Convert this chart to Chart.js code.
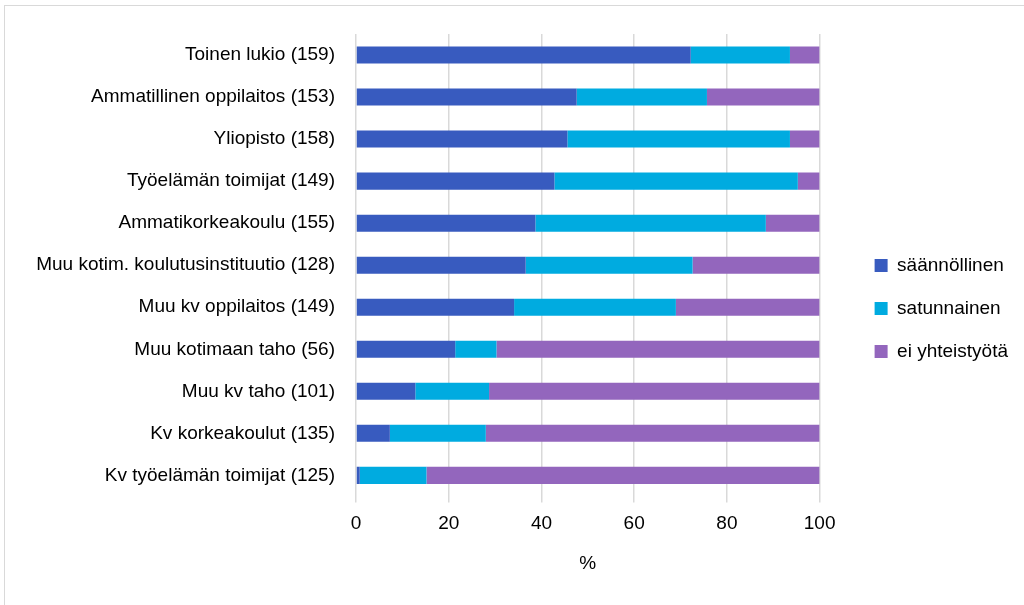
<!DOCTYPE html>
<html>
<head>
<meta charset="utf-8">
<script src="https://cdn.jsdelivr.net/npm/chart.js@4/dist/chart.umd.min.js"></script>
<style>
  html, body { margin: 0; padding: 0; background: #fff; }
  #frame { position: absolute; left: 4px; top: 5px; width: 1030px; height: 610px; border: 1px solid #d9d9d9; }
  #wrap { position: absolute; left: 0; top: 0; width: 1024px; height: 605px; }
</style>
</head>
<body>
<div id="frame"></div>
<div id="wrap"><canvas id="chart"></canvas></div>
<script>
const categories = [
  'Toinen lukio (159)',
  'Ammatillinen oppilaitos (153)',
  'Yliopisto (158)',
  'Työelämän toimijat (149)',
  'Ammatikorkeakoulu (155)',
  'Muu kotim. koulutusinstituutio (128)',
  'Muu kv oppilaitos (149)',
  'Muu kotimaan taho (56)',
  'Muu kv taho (101)',
  'Kv korkeakoulut (135)',
  'Kv työelämän toimijat (125)'
];
const saannollinen = [72.2, 47.6, 45.6, 42.8, 38.7, 36.6, 34.1, 21.4, 12.8, 7.3, 0.8];
const satunnainen = [21.4, 28.1, 48.0, 52.5, 49.7, 36.0, 34.9, 8.9, 15.9, 20.7, 14.4];
const eiYhteistyota = [6.4, 24.3, 6.4, 4.7, 11.6, 27.4, 31.0, 69.7, 71.3, 72.0, 84.8];
const xTicks = [0, 20, 40, 60, 80, 100];

const font = { family: '"Liberation Sans", Arial, sans-serif', size: 19 };
Chart.defaults.color = '#000';

// nudge the legend away from the plot, like the original
const legendShift = {
  id: 'legendShift',
  afterLayout(chart) {
    const lg = chart.legend;
    if (lg) { lg.left += 31; lg.right += 31; lg.top += 4; lg.bottom += 4; }
  }
};

const ctx = document.getElementById('chart').getContext('2d');
new Chart(ctx, {
  type: 'bar',
  data: {
    labels: categories,
    datasets: [
      { label: 'säännöllinen', data: saannollinen, backgroundColor: '#385bbf' },
      { label: 'satunnainen', data: satunnainen, backgroundColor: '#00abe0' },
      { label: 'ei yhteistyötä', data: eiYhteistyota, backgroundColor: '#9366bd' }
    ]
  },
  plugins: [legendShift],
  options: {
    indexAxis: 'y',
    responsive: true,
    maintainAspectRatio: false,
    animation: false,
    datasets: { bar: { barPercentage: 0.405, categoryPercentage: 1 } },
    layout: { padding: { left: 10, right: 37, top: 34, bottom: 30 } },
    plugins: {
      tooltip: { enabled: false },
      legend: {
        position: 'right',
        labels: { font: font, boxWidth: 13, boxHeight: 13, padding: 24, color: '#000' }
      }
    },
    scales: {
      x: {
        stacked: true,
        min: 0,
        max: 100,
        afterBuildTicks: axis => { axis.ticks = xTicks.map(v => ({ value: v })); },
        grid: { color: '#d9d9d9', lineWidth: 1.5, tickLength: 6, drawTicks: true },
        border: { display: false },
        ticks: { font: font, padding: 10, color: '#000' },
        title: { display: true, text: '%', font: font, color: '#000', padding: { top: 7, bottom: 0 } }
      },
      y: {
        stacked: true,
        grid: { display: false },
        border: { display: false },
        afterFit: axis => { axis.width = 346; },
        ticks: { font: font, padding: 13, color: '#000', autoSkip: false }
      }
    }
  }
});
</script>
</body>
</html>
